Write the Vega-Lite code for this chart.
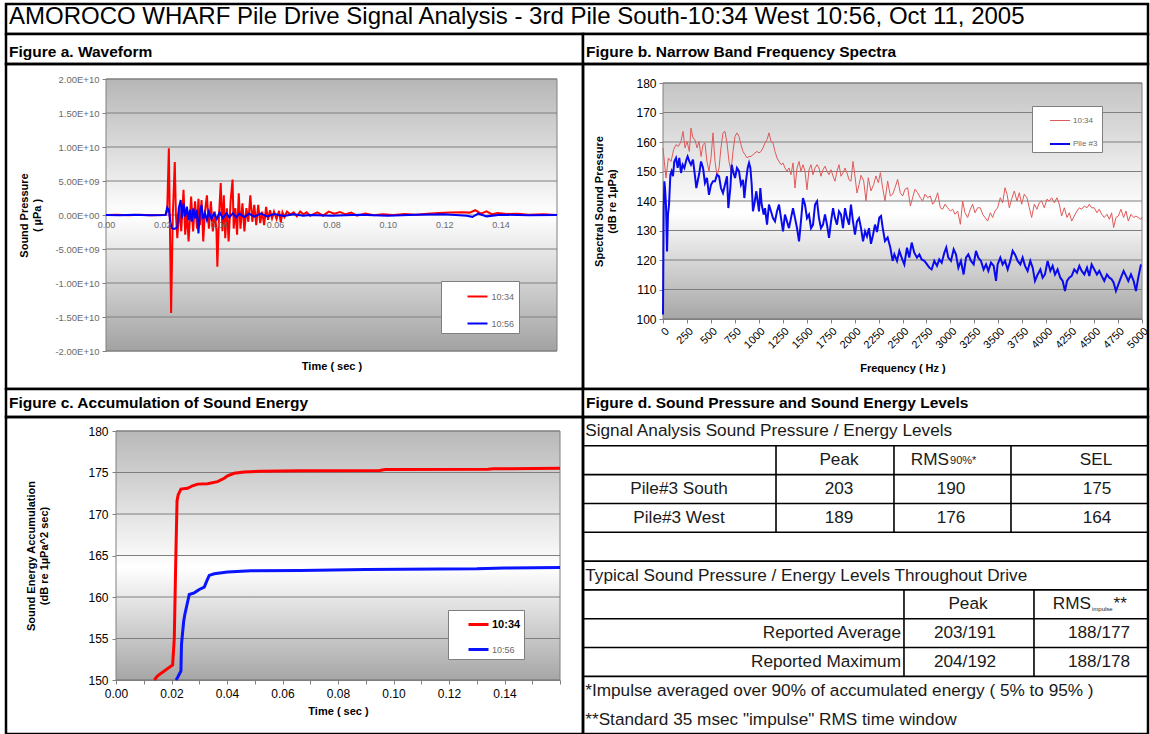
{
"$schema":"https://vega.github.io/schema/vega-lite/v6.json",
"padding":{"left":4,"top":2,"right":0,"bottom":0},
"config":{
 "font":"Liberation Sans",
 "view":{"stroke":"#000000","strokeWidth":2.5},
 "axis":{"labelFont":"Liberation Sans","titleFont":"Liberation Sans","labelOverlap":false,"labelFlush":false,"domainColor":"#808080","tickColor":"#808080","grid":false,"titleColor":"#000000"},
 "legend":{"labelFont":"Liberation Sans"},
 "title":{"font":"Liberation Sans","color":"#000000"},
 "text":{"font":"Liberation Sans"}
},
"datasets":{
 "wave":[
  {"t":0,"p":0,"s":"10:34"},{"t":0.004,"p":5e7,"s":"10:34"},{"t":0.008,"p":-3e7,"s":"10:34"},{"t":0.012,"p":4e7,"s":"10:34"},{"t":0.016,"p":-2e7,"s":"10:34"},{"t":0.0205,"p":0,"s":"10:34"},{"t":0.0211,"p":0,"s":"10:34"},{"t":0.0217,"p":5e8,"s":"10:34"},{"t":0.0223,"p":9.8e9,"s":"10:34"},{"t":0.0227,"p":-2.4e9,"s":"10:34"},{"t":0.0231,"p":-1.44e10,"s":"10:34"},{"t":0.0237,"p":0,"s":"10:34"},{"t":0.0244,"p":7.8e9,"s":"10:34"},{"t":0.0248,"p":0,"s":"10:34"},{"t":0.0253,"p":-3.4e9,"s":"10:34"},{"t":0.026,"p":1e9,"s":"10:34"},{"t":0.0267,"p":-2.4e9,"s":"10:34"},{"t":0.0275,"p":3.7e9,"s":"10:34"},{"t":0.0281,"p":-2.9e9,"s":"10:34"},{"t":0.0287,"p":5e8,"s":"10:34"},{"t":0.0293,"p":-3.9e9,"s":"10:34"},{"t":0.0302,"p":2.7e9,"s":"10:34"},{"t":0.0309,"p":-2.4e9,"s":"10:34"},{"t":0.0316,"p":2e9,"s":"10:34"},{"t":0.0323,"p":-2e9,"s":"10:34"},{"t":0.0328,"p":2.4e9,"s":"10:34"},{"t":0.0333,"p":-1.5e9,"s":"10:34"},{"t":0.0339,"p":2.2e9,"s":"10:34"},{"t":0.0345,"p":-3.9e9,"s":"10:34"},{"t":0.0351,"p":5e8,"s":"10:34"},{"t":0.0358,"p":2.9e9,"s":"10:34"},{"t":0.0365,"p":-2e9,"s":"10:34"},{"t":0.0372,"p":2e9,"s":"10:34"},{"t":0.0379,"p":-2.4e9,"s":"10:34"},{"t":0.0386,"p":5e8,"s":"10:34"},{"t":0.0392,"p":-2.4e9,"s":"10:34"},{"t":0.0395,"p":-7.6e9,"s":"10:34"},{"t":0.0401,"p":0,"s":"10:34"},{"t":0.0407,"p":4.7e9,"s":"10:34"},{"t":0.0413,"p":-2.4e9,"s":"10:34"},{"t":0.0418,"p":2.9e9,"s":"10:34"},{"t":0.0423,"p":-3.4e9,"s":"10:34"},{"t":0.0429,"p":1e9,"s":"10:34"},{"t":0.0435,"p":-3.9e9,"s":"10:34"},{"t":0.0442,"p":2e9,"s":"10:34"},{"t":0.0449,"p":5.2e9,"s":"10:34"},{"t":0.0453,"p":-2e9,"s":"10:34"},{"t":0.0459,"p":1e9,"s":"10:34"},{"t":0.0465,"p":-2.9e9,"s":"10:34"},{"t":0.0471,"p":3.2e9,"s":"10:34"},{"t":0.0477,"p":-2e9,"s":"10:34"},{"t":0.0484,"p":1.7e9,"s":"10:34"},{"t":0.0491,"p":-2.4e9,"s":"10:34"},{"t":0.0498,"p":1e9,"s":"10:34"},{"t":0.0505,"p":-1e9,"s":"10:34"},{"t":0.0512,"p":2.9e9,"s":"10:34"},{"t":0.0519,"p":-1e9,"s":"10:34"},{"t":0.0526,"p":1.5e9,"s":"10:34"},{"t":0.0533,"p":-1.5e9,"s":"10:34"},{"t":0.054,"p":1.5e9,"s":"10:34"},{"t":0.0547,"p":-1.2e9,"s":"10:34"},{"t":0.0554,"p":5e8,"s":"10:34"},{"t":0.0561,"p":-1.5e9,"s":"10:34"},{"t":0.0568,"p":1.2e9,"s":"10:34"},{"t":0.0575,"p":-7e8,"s":"10:34"},{"t":0.0582,"p":7e8,"s":"10:34"},{"t":0.0589,"p":-5e8,"s":"10:34"},{"t":0.0596,"p":5e8,"s":"10:34"},{"t":0.0605,"p":-6e8,"s":"10:34"},{"t":0.0614,"p":6e8,"s":"10:34"},{"t":0.062,"p":-1.1e9,"s":"10:34"},{"t":0.0626,"p":4e8,"s":"10:34"},{"t":0.0633,"p":-3e8,"s":"10:34"},{"t":0.0642,"p":5e8,"s":"10:34"},{"t":0.0654,"p":1e8,"s":"10:34"},{"t":0.0666,"p":4e8,"s":"10:34"},{"t":0.0677,"p":-2e8,"s":"10:34"},{"t":0.0689,"p":5e8,"s":"10:34"},{"t":0.07,"p":1e8,"s":"10:34"},{"t":0.0712,"p":4e8,"s":"10:34"},{"t":0.0724,"p":-1e8,"s":"10:34"},{"t":0.075,"p":4e8,"s":"10:34"},{"t":0.077,"p":-1e8,"s":"10:34"},{"t":0.079,"p":5e8,"s":"10:34"},{"t":0.081,"p":2e8,"s":"10:34"},{"t":0.083,"p":4.5e8,"s":"10:34"},{"t":0.085,"p":1e8,"s":"10:34"},{"t":0.087,"p":3.5e8,"s":"10:34"},{"t":0.089,"p":-1e8,"s":"10:34"},{"t":0.092,"p":2e8,"s":"10:34"},{"t":0.095,"p":-5e7,"s":"10:34"},{"t":0.098,"p":1e8,"s":"10:34"},{"t":0.102,"p":0,"s":"10:34"},{"t":0.106,"p":1.5e8,"s":"10:34"},{"t":0.11,"p":5e7,"s":"10:34"},{"t":0.114,"p":2e8,"s":"10:34"},{"t":0.118,"p":3e8,"s":"10:34"},{"t":0.122,"p":3.5e8,"s":"10:34"},{"t":0.126,"p":4e8,"s":"10:34"},{"t":0.129,"p":3.5e8,"s":"10:34"},{"t":0.131,"p":7e8,"s":"10:34"},{"t":0.133,"p":2e8,"s":"10:34"},{"t":0.135,"p":5.5e8,"s":"10:34"},{"t":0.137,"p":1e8,"s":"10:34"},{"t":0.139,"p":3e8,"s":"10:34"},{"t":0.142,"p":1.5e8,"s":"10:34"},{"t":0.146,"p":2e8,"s":"10:34"},{"t":0.15,"p":5e7,"s":"10:34"},{"t":0.155,"p":1e8,"s":"10:34"},{"t":0.16,"p":0,"s":"10:34"},
  {"t":0,"p":0,"s":"10:56"},{"t":0.005,"p":-3e7,"s":"10:56"},{"t":0.01,"p":2e7,"s":"10:56"},{"t":0.015,"p":-2e7,"s":"10:56"},{"t":0.0211,"p":0,"s":"10:56"},{"t":0.0217,"p":1.08e9,"s":"10:56"},{"t":0.0223,"p":7.4e8,"s":"10:56"},{"t":0.0228,"p":-9.8e8,"s":"10:56"},{"t":0.0234,"p":-1.96e9,"s":"10:56"},{"t":0.024,"p":-2.06e9,"s":"10:56"},{"t":0.0248,"p":-1.96e9,"s":"10:56"},{"t":0.0253,"p":-1.72e9,"s":"10:56"},{"t":0.0258,"p":9.8e8,"s":"10:56"},{"t":0.0265,"p":2.21e9,"s":"10:56"},{"t":0.0269,"p":-4.9e8,"s":"10:56"},{"t":0.0275,"p":1.72e9,"s":"10:56"},{"t":0.0281,"p":-2.5e8,"s":"10:56"},{"t":0.0287,"p":1.23e9,"s":"10:56"},{"t":0.0293,"p":-7.4e8,"s":"10:56"},{"t":0.0298,"p":7.4e8,"s":"10:56"},{"t":0.0304,"p":-9.8e8,"s":"10:56"},{"t":0.031,"p":9.8e8,"s":"10:56"},{"t":0.0316,"p":-4.9e8,"s":"10:56"},{"t":0.0322,"p":7.4e8,"s":"10:56"},{"t":0.0328,"p":-2.7e9,"s":"10:56"},{"t":0.0333,"p":2.5e8,"s":"10:56"},{"t":0.0339,"p":1.47e9,"s":"10:56"},{"t":0.0345,"p":-5.9e8,"s":"10:56"},{"t":0.0351,"p":2.5e8,"s":"10:56"},{"t":0.0358,"p":-7.4e8,"s":"10:56"},{"t":0.0365,"p":4.9e8,"s":"10:56"},{"t":0.0374,"p":-5.9e8,"s":"10:56"},{"t":0.0383,"p":2.5e8,"s":"10:56"},{"t":0.0393,"p":-5.9e8,"s":"10:56"},{"t":0.0403,"p":3.9e8,"s":"10:56"},{"t":0.0415,"p":-4.9e8,"s":"10:56"},{"t":0.0427,"p":2.5e8,"s":"10:56"},{"t":0.0438,"p":-3.9e8,"s":"10:56"},{"t":0.045,"p":2.9e8,"s":"10:56"},{"t":0.0462,"p":-3.4e8,"s":"10:56"},{"t":0.0473,"p":2e8,"s":"10:56"},{"t":0.0491,"p":-2.9e8,"s":"10:56"},{"t":0.0508,"p":2e8,"s":"10:56"},{"t":0.0526,"p":-2.5e8,"s":"10:56"},{"t":0.0549,"p":2e8,"s":"10:56"},{"t":0.0572,"p":-2e8,"s":"10:56"},{"t":0.0596,"p":1.5e8,"s":"10:56"},{"t":0.0631,"p":-1.5e8,"s":"10:56"},{"t":0.0666,"p":1e8,"s":"10:56"},{"t":0.07,"p":-1e8,"s":"10:56"},{"t":0.0724,"p":0,"s":"10:56"},{"t":0.08,"p":-1e8,"s":"10:56"},{"t":0.09,"p":5e7,"s":"10:56"},{"t":0.1,"p":-1e8,"s":"10:56"},{"t":0.11,"p":5e7,"s":"10:56"},{"t":0.12,"p":1e8,"s":"10:56"},{"t":0.128,"p":-1e8,"s":"10:56"},{"t":0.13,"p":-3e8,"s":"10:56"},{"t":0.132,"p":2e8,"s":"10:56"},{"t":0.135,"p":-2e8,"s":"10:56"},{"t":0.14,"p":5e7,"s":"10:56"},{"t":0.15,"p":-5e7,"s":"10:56"},{"t":0.16,"p":0,"s":"10:56"}
 ],
 "spec":[
  {"f":0,"db":158,"s":"10:34"},{"f":14,"db":153.4,"s":"10:34"},{"f":31,"db":147.8,"s":"10:34"},{"f":56,"db":154.6,"s":"10:34"},{"f":84,"db":153.4,"s":"10:34"},{"f":111,"db":157.4,"s":"10:34"},{"f":136,"db":159.1,"s":"10:34"},{"f":160,"db":158.5,"s":"10:34"},{"f":188,"db":160.2,"s":"10:34"},{"f":209,"db":163.6,"s":"10:34"},{"f":230,"db":158,"s":"10:34"},{"f":251,"db":160.2,"s":"10:34"},{"f":275,"db":156.8,"s":"10:34"},{"f":292,"db":164.7,"s":"10:34"},{"f":313,"db":161.4,"s":"10:34"},{"f":334,"db":160.8,"s":"10:34"},{"f":355,"db":158,"s":"10:34"},{"f":376,"db":160.2,"s":"10:34"},{"f":397,"db":155.1,"s":"10:34"},{"f":418,"db":159.1,"s":"10:34"},{"f":438,"db":159.7,"s":"10:34"},{"f":459,"db":153.4,"s":"10:34"},{"f":480,"db":150.1,"s":"10:34"},{"f":501,"db":154.6,"s":"10:34"},{"f":522,"db":163.1,"s":"10:34"},{"f":543,"db":153.4,"s":"10:34"},{"f":564,"db":148.4,"s":"10:34"},{"f":585,"db":151.2,"s":"10:34"},{"f":605,"db":158,"s":"10:34"},{"f":626,"db":163.1,"s":"10:34"},{"f":647,"db":163.6,"s":"10:34"},{"f":668,"db":159.7,"s":"10:34"},{"f":689,"db":153.4,"s":"10:34"},{"f":710,"db":150.1,"s":"10:34"},{"f":731,"db":156.8,"s":"10:34"},{"f":752,"db":161.9,"s":"10:34"},{"f":772,"db":163.1,"s":"10:34"},{"f":793,"db":161.9,"s":"10:34"},{"f":814,"db":159.1,"s":"10:34"},{"f":835,"db":156.8,"s":"10:34"},{"f":856,"db":155.7,"s":"10:34"},{"f":877,"db":154.6,"s":"10:34"},{"f":898,"db":155.1,"s":"10:34"},{"f":919,"db":155.1,"s":"10:34"},{"f":939,"db":155.7,"s":"10:34"},{"f":960,"db":156.3,"s":"10:34"},{"f":981,"db":156.8,"s":"10:34"},{"f":1002,"db":156.3,"s":"10:34"},{"f":1023,"db":156.8,"s":"10:34"},{"f":1044,"db":158,"s":"10:34"},{"f":1065,"db":159.7,"s":"10:34"},{"f":1086,"db":160.8,"s":"10:34"},{"f":1106,"db":163.1,"s":"10:34"},{"f":1127,"db":160.2,"s":"10:34"},{"f":1148,"db":159.7,"s":"10:34"},{"f":1169,"db":156.8,"s":"10:34"},{"f":1190,"db":154.6,"s":"10:34"},{"f":1211,"db":153.4,"s":"10:34"},{"f":1232,"db":152.3,"s":"10:34"},{"f":1253,"db":152.9,"s":"10:34"},{"f":1273,"db":151.2,"s":"10:34"},{"f":1294,"db":150.1,"s":"10:34"},{"f":1315,"db":151.2,"s":"10:34"},{"f":1336,"db":148.9,"s":"10:34"},{"f":1357,"db":152.9,"s":"10:34"},{"f":1378,"db":144.4,"s":"10:34"},{"f":1399,"db":151.2,"s":"10:34"},{"f":1420,"db":153.4,"s":"10:34"},{"f":1440,"db":150.1,"s":"10:34"},{"f":1461,"db":152.3,"s":"10:34"},{"f":1482,"db":150.1,"s":"10:34"},{"f":1503,"db":143.8,"s":"10:34"},{"f":1524,"db":150.6,"s":"10:34"},{"f":1545,"db":152.3,"s":"10:34"},{"f":1566,"db":148.9,"s":"10:34"},{"f":1587,"db":151.2,"s":"10:34"},{"f":1608,"db":152.3,"s":"10:34"},{"f":1628,"db":151.2,"s":"10:34"},{"f":1649,"db":148.4,"s":"10:34"},{"f":1670,"db":150.6,"s":"10:34"},{"f":1691,"db":151.8,"s":"10:34"},{"f":1712,"db":150.1,"s":"10:34"},{"f":1733,"db":148.9,"s":"10:34"},{"f":1754,"db":150.6,"s":"10:34"},{"f":1775,"db":148.4,"s":"10:34"},{"f":1795,"db":146.7,"s":"10:34"},{"f":1816,"db":150.1,"s":"10:34"},{"f":1837,"db":152.3,"s":"10:34"},{"f":1858,"db":148.4,"s":"10:34"},{"f":1879,"db":149.5,"s":"10:34"},{"f":1900,"db":151.2,"s":"10:34"},{"f":1921,"db":149.5,"s":"10:34"},{"f":1942,"db":147.2,"s":"10:34"},{"f":1962,"db":146.7,"s":"10:34"},{"f":1983,"db":153.4,"s":"10:34"},{"f":2004,"db":148.4,"s":"10:34"},{"f":2025,"db":142.7,"s":"10:34"},{"f":2046,"db":145.5,"s":"10:34"},{"f":2067,"db":148.7,"s":"10:34"},{"f":2095,"db":146.8,"s":"10:34"},{"f":2119,"db":140,"s":"10:34"},{"f":2143,"db":147.9,"s":"10:34"},{"f":2171,"db":143.4,"s":"10:34"},{"f":2199,"db":145.6,"s":"10:34"},{"f":2223,"db":148.5,"s":"10:34"},{"f":2248,"db":146.2,"s":"10:34"},{"f":2269,"db":149.6,"s":"10:34"},{"f":2293,"db":144.5,"s":"10:34"},{"f":2317,"db":140,"s":"10:34"},{"f":2345,"db":146.8,"s":"10:34"},{"f":2373,"db":141.7,"s":"10:34"},{"f":2397,"db":142.3,"s":"10:34"},{"f":2422,"db":144.5,"s":"10:34"},{"f":2449,"db":147.3,"s":"10:34"},{"f":2477,"db":142.8,"s":"10:34"},{"f":2502,"db":141.7,"s":"10:34"},{"f":2526,"db":144,"s":"10:34"},{"f":2554,"db":144.5,"s":"10:34"},{"f":2582,"db":138.3,"s":"10:34"},{"f":2606,"db":141.1,"s":"10:34"},{"f":2630,"db":144,"s":"10:34"},{"f":2658,"db":142.8,"s":"10:34"},{"f":2686,"db":141.1,"s":"10:34"},{"f":2710,"db":140,"s":"10:34"},{"f":2735,"db":142.3,"s":"10:34"},{"f":2763,"db":141.1,"s":"10:34"},{"f":2790,"db":141.7,"s":"10:34"},{"f":2815,"db":138.9,"s":"10:34"},{"f":2839,"db":140,"s":"10:34"},{"f":2867,"db":142.8,"s":"10:34"},{"f":2895,"db":137.7,"s":"10:34"},{"f":2919,"db":137.2,"s":"10:34"},{"f":2944,"db":138.9,"s":"10:34"},{"f":2971,"db":137.7,"s":"10:34"},{"f":2999,"db":136.6,"s":"10:34"},{"f":3024,"db":137.2,"s":"10:34"},{"f":3048,"db":135.5,"s":"10:34"},{"f":3076,"db":136.6,"s":"10:34"},{"f":3104,"db":132.1,"s":"10:34"},{"f":3128,"db":140,"s":"10:34"},{"f":3152,"db":136,"s":"10:34"},{"f":3180,"db":134.4,"s":"10:34"},{"f":3208,"db":137.2,"s":"10:34"},{"f":3232,"db":138.9,"s":"10:34"},{"f":3257,"db":136,"s":"10:34"},{"f":3284,"db":137.7,"s":"10:34"},{"f":3312,"db":137.7,"s":"10:34"},{"f":3337,"db":135.5,"s":"10:34"},{"f":3361,"db":134.4,"s":"10:34"},{"f":3389,"db":133.2,"s":"10:34"},{"f":3417,"db":136,"s":"10:34"},{"f":3441,"db":134.4,"s":"10:34"},{"f":3465,"db":136.6,"s":"10:34"},{"f":3493,"db":137.7,"s":"10:34"},{"f":3521,"db":141.1,"s":"10:34"},{"f":3545,"db":139.4,"s":"10:34"},{"f":3570,"db":144.5,"s":"10:34"},{"f":3591,"db":142.3,"s":"10:34"},{"f":3615,"db":137.7,"s":"10:34"},{"f":3639,"db":140.6,"s":"10:34"},{"f":3667,"db":143.4,"s":"10:34"},{"f":3695,"db":140,"s":"10:34"},{"f":3719,"db":142.8,"s":"10:34"},{"f":3744,"db":138.9,"s":"10:34"},{"f":3771,"db":142.3,"s":"10:34"},{"f":3799,"db":141.1,"s":"10:34"},{"f":3824,"db":137.7,"s":"10:34"},{"f":3848,"db":134.4,"s":"10:34"},{"f":3876,"db":138.9,"s":"10:34"},{"f":3904,"db":137.2,"s":"10:34"},{"f":3928,"db":139.4,"s":"10:34"},{"f":3952,"db":140,"s":"10:34"},{"f":3980,"db":137.7,"s":"10:34"},{"f":4008,"db":140.6,"s":"10:34"},{"f":4032,"db":140,"s":"10:34"},{"f":4057,"db":141.1,"s":"10:34"},{"f":4085,"db":139.4,"s":"10:34"},{"f":4112,"db":141.1,"s":"10:34"},{"f":4137,"db":138.9,"s":"10:34"},{"f":4161,"db":134.9,"s":"10:34"},{"f":4189,"db":137.7,"s":"10:34"},{"f":4217,"db":134.4,"s":"10:34"},{"f":4241,"db":136,"s":"10:34"},{"f":4266,"db":133.2,"s":"10:34"},{"f":4293,"db":134.9,"s":"10:34"},{"f":4321,"db":136.6,"s":"10:34"},{"f":4346,"db":137.7,"s":"10:34"},{"f":4370,"db":137.2,"s":"10:34"},{"f":4398,"db":138.3,"s":"10:34"},{"f":4426,"db":137.7,"s":"10:34"},{"f":4450,"db":138.9,"s":"10:34"},{"f":4474,"db":137.7,"s":"10:34"},{"f":4502,"db":137.7,"s":"10:34"},{"f":4530,"db":136,"s":"10:34"},{"f":4554,"db":137.2,"s":"10:34"},{"f":4579,"db":135.5,"s":"10:34"},{"f":4606,"db":134.4,"s":"10:34"},{"f":4634,"db":135.5,"s":"10:34"},{"f":4659,"db":133.8,"s":"10:34"},{"f":4683,"db":136,"s":"10:34"},{"f":4704,"db":131,"s":"10:34"},{"f":4728,"db":134.4,"s":"10:34"},{"f":4753,"db":134.9,"s":"10:34"},{"f":4780,"db":137.2,"s":"10:34"},{"f":4808,"db":134.4,"s":"10:34"},{"f":4833,"db":136.6,"s":"10:34"},{"f":4857,"db":133.2,"s":"10:34"},{"f":4885,"db":135.5,"s":"10:34"},{"f":4913,"db":134.4,"s":"10:34"},{"f":4937,"db":134.9,"s":"10:34"},{"f":4961,"db":134.4,"s":"10:34"},{"f":4989,"db":133.8,"s":"10:34"},{"f":5000,"db":134.5,"s":"10:34"},
  {"f":0,"db":101.5,"s":"Pile #3"},{"f":7,"db":136.5,"s":"Pile #3"},{"f":14,"db":146.7,"s":"Pile #3"},{"f":21,"db":144.4,"s":"Pile #3"},{"f":31,"db":138.8,"s":"Pile #3"},{"f":42,"db":122.9,"s":"Pile #3"},{"f":52,"db":135.4,"s":"Pile #3"},{"f":63,"db":138.8,"s":"Pile #3"},{"f":77,"db":148.9,"s":"Pile #3"},{"f":90,"db":150.1,"s":"Pile #3"},{"f":104,"db":148.4,"s":"Pile #3"},{"f":118,"db":153.4,"s":"Pile #3"},{"f":136,"db":154.6,"s":"Pile #3"},{"f":153,"db":151.2,"s":"Pile #3"},{"f":170,"db":154.6,"s":"Pile #3"},{"f":188,"db":149.5,"s":"Pile #3"},{"f":205,"db":152.3,"s":"Pile #3"},{"f":223,"db":151.2,"s":"Pile #3"},{"f":244,"db":154,"s":"Pile #3"},{"f":257,"db":155.1,"s":"Pile #3"},{"f":275,"db":153.4,"s":"Pile #3"},{"f":292,"db":152.3,"s":"Pile #3"},{"f":313,"db":154,"s":"Pile #3"},{"f":334,"db":148.4,"s":"Pile #3"},{"f":348,"db":144.4,"s":"Pile #3"},{"f":362,"db":146.7,"s":"Pile #3"},{"f":379,"db":149.5,"s":"Pile #3"},{"f":397,"db":153.4,"s":"Pile #3"},{"f":418,"db":151.2,"s":"Pile #3"},{"f":438,"db":146.1,"s":"Pile #3"},{"f":459,"db":147.8,"s":"Pile #3"},{"f":480,"db":142.1,"s":"Pile #3"},{"f":501,"db":145.5,"s":"Pile #3"},{"f":522,"db":146.7,"s":"Pile #3"},{"f":543,"db":146.7,"s":"Pile #3"},{"f":564,"db":148.9,"s":"Pile #3"},{"f":585,"db":148.4,"s":"Pile #3"},{"f":605,"db":144.4,"s":"Pile #3"},{"f":626,"db":142.7,"s":"Pile #3"},{"f":647,"db":145.5,"s":"Pile #3"},{"f":668,"db":148.4,"s":"Pile #3"},{"f":682,"db":137.6,"s":"Pile #3"},{"f":703,"db":144.4,"s":"Pile #3"},{"f":717,"db":152.3,"s":"Pile #3"},{"f":731,"db":150.1,"s":"Pile #3"},{"f":752,"db":147.8,"s":"Pile #3"},{"f":772,"db":151.2,"s":"Pile #3"},{"f":793,"db":150.1,"s":"Pile #3"},{"f":814,"db":145.5,"s":"Pile #3"},{"f":835,"db":147.2,"s":"Pile #3"},{"f":849,"db":141,"s":"Pile #3"},{"f":866,"db":146.7,"s":"Pile #3"},{"f":884,"db":151.2,"s":"Pile #3"},{"f":898,"db":152.9,"s":"Pile #3"},{"f":912,"db":151.2,"s":"Pile #3"},{"f":926,"db":145.5,"s":"Pile #3"},{"f":939,"db":136.5,"s":"Pile #3"},{"f":953,"db":138.8,"s":"Pile #3"},{"f":974,"db":143.3,"s":"Pile #3"},{"f":988,"db":139.9,"s":"Pile #3"},{"f":1002,"db":136.5,"s":"Pile #3"},{"f":1016,"db":144.4,"s":"Pile #3"},{"f":1030,"db":138.8,"s":"Pile #3"},{"f":1051,"db":135.4,"s":"Pile #3"},{"f":1065,"db":137.6,"s":"Pile #3"},{"f":1086,"db":132,"s":"Pile #3"},{"f":1106,"db":138.8,"s":"Pile #3"},{"f":1127,"db":136.5,"s":"Pile #3"},{"f":1148,"db":134.2,"s":"Pile #3"},{"f":1169,"db":133.1,"s":"Pile #3"},{"f":1190,"db":136.5,"s":"Pile #3"},{"f":1211,"db":138.8,"s":"Pile #3"},{"f":1232,"db":134.2,"s":"Pile #3"},{"f":1253,"db":129.7,"s":"Pile #3"},{"f":1273,"db":135.4,"s":"Pile #3"},{"f":1294,"db":133.1,"s":"Pile #3"},{"f":1315,"db":130.8,"s":"Pile #3"},{"f":1336,"db":134.2,"s":"Pile #3"},{"f":1357,"db":137.6,"s":"Pile #3"},{"f":1378,"db":134.2,"s":"Pile #3"},{"f":1399,"db":130.8,"s":"Pile #3"},{"f":1420,"db":126.3,"s":"Pile #3"},{"f":1440,"db":133.1,"s":"Pile #3"},{"f":1461,"db":141,"s":"Pile #3"},{"f":1482,"db":138.8,"s":"Pile #3"},{"f":1503,"db":134.2,"s":"Pile #3"},{"f":1524,"db":135.4,"s":"Pile #3"},{"f":1545,"db":130.8,"s":"Pile #3"},{"f":1566,"db":132,"s":"Pile #3"},{"f":1587,"db":138.8,"s":"Pile #3"},{"f":1608,"db":139.9,"s":"Pile #3"},{"f":1628,"db":134.2,"s":"Pile #3"},{"f":1649,"db":130.8,"s":"Pile #3"},{"f":1670,"db":132,"s":"Pile #3"},{"f":1691,"db":135.4,"s":"Pile #3"},{"f":1712,"db":132,"s":"Pile #3"},{"f":1733,"db":127.5,"s":"Pile #3"},{"f":1754,"db":133.1,"s":"Pile #3"},{"f":1775,"db":137.6,"s":"Pile #3"},{"f":1795,"db":134.2,"s":"Pile #3"},{"f":1816,"db":132,"s":"Pile #3"},{"f":1837,"db":136.5,"s":"Pile #3"},{"f":1858,"db":135.4,"s":"Pile #3"},{"f":1879,"db":130.8,"s":"Pile #3"},{"f":1900,"db":137.6,"s":"Pile #3"},{"f":1921,"db":134.2,"s":"Pile #3"},{"f":1942,"db":132,"s":"Pile #3"},{"f":1962,"db":138.8,"s":"Pile #3"},{"f":1983,"db":133.1,"s":"Pile #3"},{"f":2004,"db":128.6,"s":"Pile #3"},{"f":2025,"db":133.1,"s":"Pile #3"},{"f":2046,"db":134.2,"s":"Pile #3"},{"f":2067,"db":130.8,"s":"Pile #3"},{"f":2088,"db":126.3,"s":"Pile #3"},{"f":2109,"db":129.7,"s":"Pile #3"},{"f":2129,"db":128,"s":"Pile #3"},{"f":2150,"db":130.8,"s":"Pile #3"},{"f":2171,"db":125.5,"s":"Pile #3"},{"f":2192,"db":128.5,"s":"Pile #3"},{"f":2213,"db":132,"s":"Pile #3"},{"f":2234,"db":129.5,"s":"Pile #3"},{"f":2258,"db":134.4,"s":"Pile #3"},{"f":2276,"db":134.9,"s":"Pile #3"},{"f":2293,"db":131,"s":"Pile #3"},{"f":2317,"db":126.4,"s":"Pile #3"},{"f":2345,"db":127.6,"s":"Pile #3"},{"f":2373,"db":124.2,"s":"Pile #3"},{"f":2397,"db":119.7,"s":"Pile #3"},{"f":2415,"db":121.9,"s":"Pile #3"},{"f":2443,"db":119.7,"s":"Pile #3"},{"f":2467,"db":123.1,"s":"Pile #3"},{"f":2491,"db":120.8,"s":"Pile #3"},{"f":2519,"db":118.5,"s":"Pile #3"},{"f":2547,"db":124.2,"s":"Pile #3"},{"f":2571,"db":120.8,"s":"Pile #3"},{"f":2596,"db":125.9,"s":"Pile #3"},{"f":2623,"db":122.5,"s":"Pile #3"},{"f":2651,"db":120.8,"s":"Pile #3"},{"f":2676,"db":121.9,"s":"Pile #3"},{"f":2700,"db":120.2,"s":"Pile #3"},{"f":2728,"db":119.7,"s":"Pile #3"},{"f":2756,"db":118.5,"s":"Pile #3"},{"f":2780,"db":117.4,"s":"Pile #3"},{"f":2804,"db":116.8,"s":"Pile #3"},{"f":2832,"db":119.7,"s":"Pile #3"},{"f":2860,"db":118,"s":"Pile #3"},{"f":2884,"db":120.2,"s":"Pile #3"},{"f":2909,"db":119.1,"s":"Pile #3"},{"f":2937,"db":122.5,"s":"Pile #3"},{"f":2957,"db":124.2,"s":"Pile #3"},{"f":2978,"db":120.8,"s":"Pile #3"},{"f":3006,"db":119.7,"s":"Pile #3"},{"f":3034,"db":123.6,"s":"Pile #3"},{"f":3058,"db":121.9,"s":"Pile #3"},{"f":3083,"db":117.4,"s":"Pile #3"},{"f":3110,"db":119.7,"s":"Pile #3"},{"f":3138,"db":115.1,"s":"Pile #3"},{"f":3163,"db":120.8,"s":"Pile #3"},{"f":3187,"db":121.9,"s":"Pile #3"},{"f":3215,"db":119.7,"s":"Pile #3"},{"f":3243,"db":118.5,"s":"Pile #3"},{"f":3267,"db":123.1,"s":"Pile #3"},{"f":3291,"db":120.8,"s":"Pile #3"},{"f":3319,"db":119.7,"s":"Pile #3"},{"f":3347,"db":116.8,"s":"Pile #3"},{"f":3372,"db":118.5,"s":"Pile #3"},{"f":3396,"db":116.3,"s":"Pile #3"},{"f":3424,"db":119.1,"s":"Pile #3"},{"f":3452,"db":118,"s":"Pile #3"},{"f":3476,"db":112.9,"s":"Pile #3"},{"f":3493,"db":118.5,"s":"Pile #3"},{"f":3521,"db":120.8,"s":"Pile #3"},{"f":3545,"db":118.5,"s":"Pile #3"},{"f":3570,"db":119.7,"s":"Pile #3"},{"f":3598,"db":116.8,"s":"Pile #3"},{"f":3625,"db":119.7,"s":"Pile #3"},{"f":3650,"db":123.1,"s":"Pile #3"},{"f":3674,"db":121.9,"s":"Pile #3"},{"f":3702,"db":119.7,"s":"Pile #3"},{"f":3730,"db":118.5,"s":"Pile #3"},{"f":3754,"db":120.8,"s":"Pile #3"},{"f":3779,"db":118,"s":"Pile #3"},{"f":3806,"db":116.3,"s":"Pile #3"},{"f":3834,"db":119.7,"s":"Pile #3"},{"f":3859,"db":117.4,"s":"Pile #3"},{"f":3883,"db":112.9,"s":"Pile #3"},{"f":3911,"db":115.1,"s":"Pile #3"},{"f":3939,"db":116.8,"s":"Pile #3"},{"f":3963,"db":114,"s":"Pile #3"},{"f":3987,"db":115.1,"s":"Pile #3"},{"f":4015,"db":119.7,"s":"Pile #3"},{"f":4043,"db":116.3,"s":"Pile #3"},{"f":4067,"db":118,"s":"Pile #3"},{"f":4092,"db":115.1,"s":"Pile #3"},{"f":4119,"db":116.8,"s":"Pile #3"},{"f":4147,"db":114,"s":"Pile #3"},{"f":4172,"db":112.9,"s":"Pile #3"},{"f":4196,"db":109.5,"s":"Pile #3"},{"f":4217,"db":112.9,"s":"Pile #3"},{"f":4241,"db":114,"s":"Pile #3"},{"f":4266,"db":114.6,"s":"Pile #3"},{"f":4293,"db":116.8,"s":"Pile #3"},{"f":4321,"db":115.7,"s":"Pile #3"},{"f":4346,"db":118,"s":"Pile #3"},{"f":4370,"db":116.3,"s":"Pile #3"},{"f":4398,"db":115.1,"s":"Pile #3"},{"f":4426,"db":117.4,"s":"Pile #3"},{"f":4450,"db":114.6,"s":"Pile #3"},{"f":4474,"db":118.5,"s":"Pile #3"},{"f":4502,"db":116.8,"s":"Pile #3"},{"f":4530,"db":115.1,"s":"Pile #3"},{"f":4554,"db":116.3,"s":"Pile #3"},{"f":4579,"db":114.6,"s":"Pile #3"},{"f":4606,"db":112.9,"s":"Pile #3"},{"f":4634,"db":115.1,"s":"Pile #3"},{"f":4659,"db":114,"s":"Pile #3"},{"f":4683,"db":113.5,"s":"Pile #3"},{"f":4704,"db":112.3,"s":"Pile #3"},{"f":4728,"db":109.5,"s":"Pile #3"},{"f":4753,"db":111.7,"s":"Pile #3"},{"f":4780,"db":114,"s":"Pile #3"},{"f":4808,"db":116.3,"s":"Pile #3"},{"f":4833,"db":114.6,"s":"Pile #3"},{"f":4857,"db":112.9,"s":"Pile #3"},{"f":4885,"db":115.1,"s":"Pile #3"},{"f":4913,"db":112.9,"s":"Pile #3"},{"f":4937,"db":109.5,"s":"Pile #3"},{"f":4961,"db":114,"s":"Pile #3"},{"f":4989,"db":118.5,"s":"Pile #3"}
 ],
 "acc":[
  {"t":0.0138,"e":150,"s":"10:34"},{"t":0.015,"e":150.5,"s":"10:34"},{"t":0.0204,"e":151.8,"s":"10:34"},{"t":0.021,"e":155,"s":"10:34"},{"t":0.0214,"e":162,"s":"10:34"},{"t":0.0216,"e":165.5,"s":"10:34"},{"t":0.022,"e":171.6,"s":"10:34"},{"t":0.0224,"e":172.3,"s":"10:34"},{"t":0.0234,"e":173,"s":"10:34"},{"t":0.0258,"e":173.1,"s":"10:34"},{"t":0.0276,"e":173.4,"s":"10:34"},{"t":0.0294,"e":173.6,"s":"10:34"},{"t":0.033,"e":173.65,"s":"10:34"},{"t":0.0366,"e":173.9,"s":"10:34"},{"t":0.039,"e":174.3,"s":"10:34"},{"t":0.0402,"e":174.6,"s":"10:34"},{"t":0.0426,"e":174.9,"s":"10:34"},{"t":0.0462,"e":175.05,"s":"10:34"},{"t":0.0522,"e":175.15,"s":"10:34"},{"t":0.0666,"e":175.2,"s":"10:34"},{"t":0.095,"e":175.25,"s":"10:34"},{"t":0.097,"e":175.35,"s":"10:34"},{"t":0.134,"e":175.38,"s":"10:34"},{"t":0.136,"e":175.45,"s":"10:34"},{"t":0.16,"e":175.5,"s":"10:34"},
  {"t":0.0216,"e":150,"s":"10:56"},{"t":0.0222,"e":150.3,"s":"10:56"},{"t":0.0234,"e":151.1,"s":"10:56"},{"t":0.0236,"e":154.3,"s":"10:56"},{"t":0.0244,"e":157.1,"s":"10:56"},{"t":0.0248,"e":157.9,"s":"10:56"},{"t":0.0256,"e":159.1,"s":"10:56"},{"t":0.0264,"e":160.3,"s":"10:56"},{"t":0.0282,"e":160.5,"s":"10:56"},{"t":0.03,"e":160.9,"s":"10:56"},{"t":0.0318,"e":161.2,"s":"10:56"},{"t":0.0328,"e":162,"s":"10:56"},{"t":0.0336,"e":162.6,"s":"10:56"},{"t":0.0354,"e":162.8,"s":"10:56"},{"t":0.0402,"e":163,"s":"10:56"},{"t":0.0486,"e":163.15,"s":"10:56"},{"t":0.0666,"e":163.2,"s":"10:56"},{"t":0.09,"e":163.3,"s":"10:56"},{"t":0.13,"e":163.4,"s":"10:56"},{"t":0.14,"e":163.5,"s":"10:56"},{"t":0.16,"e":163.55,"s":"10:56"}
 ],
 "tcells":[
  {"tx":"Signal Analysis Sound Pressure / Energy Levels","x":0.004,"r":0.5,"al":"l","sz":"m"},
  {"tx":"Peak","x":0.4531,"r":1.5,"al":"c","sz":"m"},
  {"tx":"RMS","x":0.6478,"r":1.5,"al":"r","sz":"m"},
  {"tx":"90%*","x":0.6496,"r":1.5,"al":"l","sz":"s"},
  {"tx":"SEL","x":0.908,"r":1.5,"al":"c","sz":"m"},
  {"tx":"Pile#3 South","x":0.1699,"r":2.5,"al":"c","sz":"m"},
  {"tx":"203","x":0.4531,"r":2.5,"al":"c","sz":"m"},
  {"tx":"190","x":0.6513,"r":2.5,"al":"c","sz":"m"},
  {"tx":"175","x":0.9097,"r":2.5,"al":"c","sz":"m"},
  {"tx":"Pile#3 West","x":0.1699,"r":3.5,"al":"c","sz":"m"},
  {"tx":"189","x":0.4531,"r":3.5,"al":"c","sz":"m"},
  {"tx":"176","x":0.6513,"r":3.5,"al":"c","sz":"m"},
  {"tx":"164","x":0.9097,"r":3.5,"al":"c","sz":"m"},
  {"tx":"Typical Sound Pressure / Energy Levels Throughout Drive","x":0.004,"r":5.5,"al":"l","sz":"m"},
  {"tx":"Peak","x":0.6814,"r":6.5,"al":"c","sz":"m"},
  {"tx":"RMS","x":0.8991,"r":6.5,"al":"r","sz":"m"},
  {"tx":"impulse","x":0.9009,"r":6.5,"al":"l","sz":"xs"},
  {"tx":"**","x":0.939,"r":6.5,"al":"l","sz":"m"},
  {"tx":"Reported Average","x":0.5628,"r":7.5,"al":"r","sz":"m"},
  {"tx":"203/191","x":0.6761,"r":7.5,"al":"c","sz":"m"},
  {"tx":"188/177","x":0.9133,"r":7.5,"al":"c","sz":"m"},
  {"tx":"Reported Maximum","x":0.5628,"r":8.5,"al":"r","sz":"m"},
  {"tx":"204/192","x":0.6761,"r":8.5,"al":"c","sz":"m"},
  {"tx":"188/178","x":0.9133,"r":8.5,"al":"c","sz":"m"},
  {"tx":"*Impulse averaged over 90% of accumulated energy ( 5% to 95% )","x":0.004,"r":9.5,"al":"l","sz":"m"},
  {"tx":"**Standard 35 msec \"impulse\" RMS time window","x":0.004,"r":10.5,"al":"l","sz":"m"}
 ],
 "thl":[{"r":1},{"r":2},{"r":3},{"r":4},{"r":5},{"r":6},{"r":7},{"r":8},{"r":9}],
 "tvl":[{"x":0.3416,"r0":1,"r1":4},{"x":0.5504,"r0":1,"r1":4},{"x":0.7575,"r0":1,"r1":4},{"x":0.5681,"r0":6,"r1":9},{"x":0.7982,"r0":6,"r1":9}]
},
"spacing":0,
"bounds":"flush",
"resolve":{"scale":{"color":"independent","strokeWidth":"independent"},"legend":{"color":"independent","strokeWidth":"independent"}},
"vconcat":[
 {"width":1142,"height":30,"data":{"values":[{"k":1}]},"mark":{"type":"rect","fill":"#ffffff","stroke":"#000000","strokeWidth":2.5},
  "title":{"text":"AMOROCO WHARF Pile Drive Signal Analysis - 3rd Pile South-10:34 West 10:56, Oct 11, 2005","anchor":"start","frame":"group","offset":-26,"dx":3,"fontSize":24,"fontWeight":"normal","color":"#000000"}},
 {"columns":2,"spacing":0,"bounds":"flush",
  "resolve":{"scale":{"color":"independent","strokeWidth":"independent"},"legend":{"color":"independent","strokeWidth":"independent"}},
  "concat":[
  {"width":577,"height":30,"data":{"values":[{"k":1}]},"mark":{"type":"rect","fill":"#ffffff","stroke":"#000000","strokeWidth":2.5},
   "title":{"text":"Figure a. Waveform","anchor":"start","frame":"group","offset":-28,"dx":3,"fontSize":15.5,"fontWeight":"bold","color":"#000000"}},
  {"width":565,"height":30,"data":{"values":[{"k":1}]},"mark":{"type":"rect","fill":"#ffffff","stroke":"#000000","strokeWidth":2.5},
   "title":{"text":"Figure b. Narrow Band Frequency Spectra","anchor":"start","frame":"group","offset":-28,"dx":3,"fontSize":15.5,"fontWeight":"bold","color":"#000000"}},
  {"width":577,"height":325,
   "layer":[
    {"data":{"values":[{"k":1}]},
     "mark":{"type":"rect","stroke":"#808080","strokeWidth":1,"fill":{"gradient":"linear","x1":0,"y1":0,"x2":0,"y2":1,"stops":[{"offset":0,"color":"#b6b6b6"},{"offset":0.5,"color":"#ffffff"},{"offset":1,"color":"#a2a2a2"}]}},
     "encoding":{
      "x":{"datum":0,"type":"quantitative","axis":{"orient":"bottom","offset":-174,"zindex":1,"values":[0,0.02,0.04,0.06,0.08,0.1,0.12,0.14],"format":".2f","domain":false,"ticks":false,"labelFlush":false,"labelOverlap":false,"labelFontSize":9,"labelColor":"#6a6a6a","labelPadding":5,"title":"Time ( sec )","titleFontSize":11,"titleFontWeight":"bold","titleY":151,"titleBaseline":"middle"}},
      "x2":{"datum":0.16},
      "y":{"datum":-2e10,"type":"quantitative","axis":{"offset":-100,"values":[-2e10,-1.5e10,-1e10,-5e9,0,5e9,1e10,1.5e10,2e10],"labelExpr":"replace(replace(replace(format(datum.value, '.2e'), 'e+', abs(datum.value) >= 1e10 ? 'E+' : 'E+0'), 'e-', 'E-0'), '\u2212', '-')","tickSize":4,"labelFontSize":9.5,"labelColor":"#6a6a6a","labelPadding":3,"title":["Sound Pressure","( µPa )"],"titleFontSize":11,"titleFontWeight":"bold","titlePadding":12}},
      "y2":{"datum":2e10}}},
    {"data":{"values":[{"v":-2e10},{"v":-1.5e10},{"v":-1e10},{"v":-5e9},{"v":0},{"v":5e9},{"v":1e10},{"v":1.5e10},{"v":2e10}]},
     "mark":{"type":"rule","color":"#7f7f7f","strokeWidth":1},
     "encoding":{
      "y":{"field":"v","type":"quantitative","axis":{"offset":-100,"values":[-2e10,-1.5e10,-1e10,-5e9,0,5e9,1e10,1.5e10,2e10],"labelExpr":"replace(replace(replace(format(datum.value, '.2e'), 'e+', abs(datum.value) >= 1e10 ? 'E+' : 'E+0'), 'e-', 'E-0'), '\u2212', '-')","tickSize":4,"labelFontSize":9.5,"labelColor":"#6a6a6a","labelPadding":3,"title":["Sound Pressure","( µPa )"],"titleFontSize":11,"titleFontWeight":"bold","titlePadding":12}},
      "x":{"datum":0,"type":"quantitative","axis":{"orient":"bottom","offset":-174,"zindex":1,"values":[0,0.02,0.04,0.06,0.08,0.1,0.12,0.14],"format":".2f","domain":false,"ticks":false,"labelFlush":false,"labelOverlap":false,"labelFontSize":9,"labelColor":"#6a6a6a","labelPadding":5,"title":"Time ( sec )","titleFontSize":11,"titleFontWeight":"bold","titleY":151,"titleBaseline":"middle"}},
      "x2":{"datum":0.16}}},
    {"data":{"name":"wave"},
     "mark":{"type":"line","strokeWidth":2},
     "encoding":{
      "x":{"field":"t","type":"quantitative","scale":{"domain":[0,0.16],"range":[100,551],"nice":false,"zero":false},
        "axis":{"orient":"bottom","offset":-174,"zindex":1,"values":[0,0.02,0.04,0.06,0.08,0.1,0.12,0.14],"format":".2f","domain":false,"ticks":false,"labelFlush":false,"labelOverlap":false,"labelFontSize":9,"labelColor":"#6a6a6a","labelPadding":5,"title":"Time ( sec )","titleFontSize":11,"titleFontWeight":"bold","titleY":151,"titleBaseline":"middle"}},
      "y":{"field":"p","type":"quantitative","scale":{"domain":[-2e10,2e10],"range":[287,15],"nice":false,"zero":false},
        "axis":{"offset":-100,"values":[-2e10,-1.5e10,-1e10,-5e9,0,5e9,1e10,1.5e10,2e10],"labelExpr":"replace(replace(replace(format(datum.value, '.2e'), 'e+', abs(datum.value) >= 1e10 ? 'E+' : 'E+0'), 'e-', 'E-0'), '\u2212', '-')","tickSize":4,"labelFontSize":9.5,"labelColor":"#6a6a6a","labelPadding":3,"title":["Sound Pressure","( µPa )"],"titleFontSize":11,"titleFontWeight":"bold","titlePadding":12}},
      "color":{"field":"s","type":"nominal","scale":{"domain":["10:34","10:56"],"range":["#ff0000","#0000ff"]},
        "legend":{"orient":"none","legendX":435,"legendY":217,"title":null,"fillColor":"#ffffff","strokeColor":"#7f7f7f","padding":4.5,"symbolType":"stroke","symbolSize":400,"symbolStrokeWidth":2,"symbolOffset":21,"rowPadding":11,"labelOffset":3,"labelFontSize":9,"labelColor":"#6a6a6a","labelExpr":"datum.label + '\u00a0\u00a0\u00a0\u00a0\u00a0\u00a0\u00a0\u00a0'"}}
     }}
   ]},
  {"width":565,"height":325,
   "layer":[
    {"data":{"values":[{"k":1}]},
     "mark":{"type":"rect","stroke":"#808080","strokeWidth":1,"fill":{"gradient":"linear","x1":0,"y1":0,"x2":0,"y2":1,"stops":[{"offset":0,"color":"#c4c4c4"},{"offset":0.55,"color":"#ffffff"},{"offset":1,"color":"#a6a6a6"}]}},
     "encoding":{
      "x":{"datum":0,"type":"quantitative","axis":{"orient":"bottom","offset":-70,"values":[0,250,500,750,1000,1250,1500,1750,2000,2250,2500,2750,3000,3250,3500,3750,4000,4250,4500,4750,5000],"format":"d","labelAngle":-45,"labelAlign":"right","labelBaseline":"top","labelFlush":false,"labelOverlap":false,"labelBound":false,"tickSize":4,"labelFontSize":11,"labelColor":"#000000","labelPadding":2,"title":"Frequency ( Hz )","titleFontSize":11,"titleFontWeight":"bold","titleY":49,"titleBaseline":"middle"}},
      "x2":{"datum":5000},
      "y":{"datum":100,"type":"quantitative","axis":{"offset":-80,"values":[100,110,120,130,140,150,160,170,180],"tickSize":4,"labelFontSize":12,"labelColor":"#000000","labelPadding":3,"title":["Spectral Sound Pressure","(dB re 1µPa)"],"titleFontSize":11,"titleFontWeight":"bold","titlePadding":18}},
      "y2":{"datum":180}}},
    {"data":{"values":[{"v":100},{"v":110},{"v":120},{"v":130},{"v":140},{"v":150},{"v":160},{"v":170},{"v":180}]},
     "mark":{"type":"rule","color":"#7f7f7f","strokeWidth":1},
     "encoding":{
      "y":{"field":"v","type":"quantitative","axis":{"offset":-80,"values":[100,110,120,130,140,150,160,170,180],"tickSize":4,"labelFontSize":12,"labelColor":"#000000","labelPadding":3,"title":["Spectral Sound Pressure","(dB re 1µPa)"],"titleFontSize":11,"titleFontWeight":"bold","titlePadding":18}},
      "x":{"datum":0,"type":"quantitative","axis":{"orient":"bottom","offset":-70,"values":[0,250,500,750,1000,1250,1500,1750,2000,2250,2500,2750,3000,3250,3500,3750,4000,4250,4500,4750,5000],"format":"d","labelAngle":-45,"labelAlign":"right","labelBaseline":"top","labelFlush":false,"labelOverlap":false,"labelBound":false,"tickSize":4,"labelFontSize":11,"labelColor":"#000000","labelPadding":2,"title":"Frequency ( Hz )","titleFontSize":11,"titleFontWeight":"bold","titleY":49,"titleBaseline":"middle"}},
      "x2":{"datum":5000}}},
    {"data":{"name":"spec"},
     "mark":{"type":"line"},
     "encoding":{
      "x":{"field":"f","type":"quantitative","scale":{"domain":[0,5000],"range":[80,559],"nice":false,"zero":false},
        "axis":{"orient":"bottom","offset":-70,"values":[0,250,500,750,1000,1250,1500,1750,2000,2250,2500,2750,3000,3250,3500,3750,4000,4250,4500,4750,5000],"format":"d","labelAngle":-45,"labelAlign":"right","labelBaseline":"top","labelFlush":false,"labelOverlap":false,"labelBound":false,"tickSize":4,"labelFontSize":11,"labelColor":"#000000","labelPadding":2,"title":"Frequency ( Hz )","titleFontSize":11,"titleFontWeight":"bold","titleY":49,"titleBaseline":"middle"}},
      "y":{"field":"db","type":"quantitative","scale":{"domain":[100,180],"range":[255,19],"nice":false,"zero":false},
        "axis":{"offset":-80,"values":[100,110,120,130,140,150,160,170,180],"tickSize":4,"labelFontSize":12,"labelColor":"#000000","labelPadding":3,"title":["Spectral Sound Pressure","(dB re 1µPa)"],"titleFontSize":11,"titleFontWeight":"bold","titlePadding":18}},
      "color":{"field":"s","type":"nominal","scale":{"domain":["10:34","Pile #3"],"range":["#e05a5a","#0a0aee"]},
        "legend":{"orient":"none","legendX":449,"legendY":42,"title":null,"fillColor":"#ffffff","strokeColor":"#7f7f7f","padding":4,"symbolType":"stroke","symbolSize":400,"symbolOffset":13,"rowPadding":8,"labelOffset":2,"labelFontSize":8,"labelColor":"#6a6a6a","labelExpr":"datum.label + '\u00a0\u00a0\u00a0\u00a0\u00a0\u00a0\u00a0\u00a0\u00a0\u00a0'"}},
      "strokeWidth":{"field":"s","type":"nominal","scale":{"domain":["10:34","Pile #3"],"range":[1,2]},
        "legend":{"orient":"none","legendX":449,"legendY":42,"title":null,"fillColor":"#ffffff","strokeColor":"#7f7f7f","padding":4,"symbolType":"stroke","symbolSize":400,"symbolOffset":13,"rowPadding":8,"labelOffset":2,"labelFontSize":8,"labelColor":"#6a6a6a","labelExpr":"datum.label + '\u00a0\u00a0\u00a0\u00a0\u00a0\u00a0\u00a0\u00a0\u00a0\u00a0'"}}
     }}
   ]},
  {"width":577,"height":28,"data":{"values":[{"k":1}]},"mark":{"type":"rect","fill":"#ffffff","stroke":"#000000","strokeWidth":2.5},
   "title":{"text":"Figure c. Accumulation of Sound Energy","anchor":"start","frame":"group","offset":-24,"dx":3,"fontSize":15.5,"fontWeight":"bold","color":"#000000"}},
  {"width":565,"height":28,"data":{"values":[{"k":1}]},"mark":{"type":"rect","fill":"#ffffff","stroke":"#000000","strokeWidth":2.5},
   "title":{"text":"Figure d. Sound Pressure and Sound Energy Levels","anchor":"start","frame":"group","offset":-24,"dx":3,"fontSize":15.5,"fontWeight":"bold","color":"#000000"}},
  {"width":577,"height":317,
   "layer":[
    {"data":{"values":[{"k":1}]},
     "mark":{"type":"rect","stroke":"#808080","strokeWidth":1,"fill":{"gradient":"linear","x1":0,"y1":0,"x2":0,"y2":1,"stops":[{"offset":0,"color":"#b8b8b8"},{"offset":0.55,"color":"#ffffff"},{"offset":1,"color":"#a6a6a6"}]}},
     "encoding":{
      "x":{"datum":0,"type":"quantitative","axis":{"orient":"bottom","offset":-54,"values":[0,0.01,0.02,0.03,0.04,0.05,0.06,0.07,0.08,0.09,0.1,0.11,0.12,0.13,0.14,0.15,0.16],"labelExpr":"(round(datum.value*100) % 2 == 0 && datum.value < 0.155) ? format(datum.value, '.2f') : ''","labelFlush":false,"labelOverlap":false,"tickSize":4,"labelFontSize":12,"labelColor":"#000000","labelPadding":4,"title":"Time ( sec )","titleFontSize":11,"titleFontWeight":"bold","titlePadding":6}},
      "x2":{"datum":0.16},
      "y":{"datum":150,"type":"quantitative","axis":{"offset":-110,"values":[150,155,160,165,170,175,180],"tickSize":4,"labelFontSize":12,"labelColor":"#000000","labelPadding":4,"title":["Sound Energy Accumulation","(dB re 1µPa^2 sec)"],"titleFontSize":11,"titleFontWeight":"bold","titlePadding":38}},
      "y2":{"datum":180}}},
    {"data":{"values":[{"v":150},{"v":155},{"v":160},{"v":165},{"v":170},{"v":175},{"v":180}]},
     "mark":{"type":"rule","color":"#7f7f7f","strokeWidth":1},
     "encoding":{
      "y":{"field":"v","type":"quantitative","axis":{"offset":-110,"values":[150,155,160,165,170,175,180],"tickSize":4,"labelFontSize":12,"labelColor":"#000000","labelPadding":4,"title":["Sound Energy Accumulation","(dB re 1µPa^2 sec)"],"titleFontSize":11,"titleFontWeight":"bold","titlePadding":38}},
      "x":{"datum":0,"type":"quantitative","axis":{"orient":"bottom","offset":-54,"values":[0,0.01,0.02,0.03,0.04,0.05,0.06,0.07,0.08,0.09,0.1,0.11,0.12,0.13,0.14,0.15,0.16],"labelExpr":"(round(datum.value*100) % 2 == 0 && datum.value < 0.155) ? format(datum.value, '.2f') : ''","labelFlush":false,"labelOverlap":false,"tickSize":4,"labelFontSize":12,"labelColor":"#000000","labelPadding":4,"title":"Time ( sec )","titleFontSize":11,"titleFontWeight":"bold","titlePadding":6}},
      "x2":{"datum":0.16}}},
    {"data":{"name":"acc"},
     "mark":{"type":"line","strokeWidth":3},
     "encoding":{
      "x":{"field":"t","type":"quantitative","scale":{"domain":[0,0.16],"range":[110,554],"nice":false,"zero":false},
        "axis":{"orient":"bottom","offset":-54,"values":[0,0.01,0.02,0.03,0.04,0.05,0.06,0.07,0.08,0.09,0.1,0.11,0.12,0.13,0.14,0.15,0.16],"labelExpr":"(round(datum.value*100) % 2 == 0 && datum.value < 0.155) ? format(datum.value, '.2f') : ''","labelFlush":false,"labelOverlap":false,"tickSize":4,"labelFontSize":12,"labelColor":"#000000","labelPadding":4,"title":"Time ( sec )","titleFontSize":11,"titleFontWeight":"bold","titlePadding":6}},
      "y":{"field":"e","type":"quantitative","scale":{"domain":[150,180],"range":[263,14],"nice":false,"zero":false},
        "axis":{"offset":-110,"values":[150,155,160,165,170,175,180],"tickSize":4,"labelFontSize":12,"labelColor":"#000000","labelPadding":4,"title":["Sound Energy Accumulation","(dB re 1µPa^2 sec)"],"titleFontSize":11,"titleFontWeight":"bold","titlePadding":38}},
      "color":{"field":"s","type":"nominal","scale":{"domain":["10:34","10:56"],"range":["#ff0000","#0a14ff"]},
        "legend":{"orient":"none","legendX":442,"legendY":193,"title":null,"fillColor":"#ffffff","strokeColor":"#7f7f7f","padding":3,"symbolType":"stroke","symbolSize":400,"symbolStrokeWidth":3,"symbolOffset":16,"rowPadding":7,"labelOffset":2,"labelFontSize":11,"labelColor":"#000000",
          "encode":{"labels":{"update":{"fontWeight":{"signal":"datum.value === '10:34' ? 'bold' : 'normal'"},"fontSize":{"signal":"datum.value === '10:34' ? 11 : 9"},"fill":{"signal":"datum.value === '10:34' ? '#000000' : '#6a6a6a'"}}}}}}
     }}
   ]},
  {"width":565,"height":317,
   "layer":[
    {"data":{"name":"thl"},"mark":{"type":"rule","color":"#000000","strokeWidth":1.6},
     "encoding":{"y":{"field":"r","type":"quantitative","scale":{"domain":[0,11],"reverse":true,"nice":false,"zero":false},"axis":null}}},
    {"data":{"name":"tvl"},"mark":{"type":"rule","color":"#000000","strokeWidth":1.6},
     "encoding":{"x":{"field":"x","type":"quantitative","scale":{"domain":[0,1],"nice":false,"zero":false},"axis":null},
       "y":{"field":"r0","type":"quantitative","axis":null},"y2":{"field":"r1"}}},
    {"data":{"name":"tcells"},"transform":[{"filter":"datum.al === 'l' && datum.sz === 'm'"}],
     "mark":{"type":"text","align":"left","baseline":"middle","fontSize":17.2,"color":"#1a1a1a"},
     "encoding":{"x":{"field":"x","type":"quantitative","axis":null},"y":{"field":"r","type":"quantitative","axis":null},"text":{"field":"tx"}}},
    {"data":{"name":"tcells"},"transform":[{"filter":"datum.al === 'c'"}],
     "mark":{"type":"text","align":"center","baseline":"middle","fontSize":17.2,"color":"#1a1a1a"},
     "encoding":{"x":{"field":"x","type":"quantitative","axis":null},"y":{"field":"r","type":"quantitative","axis":null},"text":{"field":"tx"}}},
    {"data":{"name":"tcells"},"transform":[{"filter":"datum.al === 'r'"}],
     "mark":{"type":"text","align":"right","baseline":"middle","fontSize":17.2,"color":"#1a1a1a"},
     "encoding":{"x":{"field":"x","type":"quantitative","axis":null},"y":{"field":"r","type":"quantitative","axis":null},"text":{"field":"tx"}}},
    {"data":{"name":"tcells"},"transform":[{"filter":"datum.sz === 's'"}],
     "mark":{"type":"text","align":"left","baseline":"middle","fontSize":11,"dy":1,"color":"#1a1a1a"},
     "encoding":{"x":{"field":"x","type":"quantitative","axis":null},"y":{"field":"r","type":"quantitative","axis":null},"text":{"field":"tx"}}},
    {"data":{"name":"tcells"},"transform":[{"filter":"datum.sz === 'xs'"}],
     "mark":{"type":"text","align":"left","baseline":"middle","fontSize":6,"dy":5,"color":"#1a1a1a"},
     "encoding":{"x":{"field":"x","type":"quantitative","axis":null},"y":{"field":"r","type":"quantitative","axis":null},"text":{"field":"tx"}}}
   ]}
 ]}
]
}
